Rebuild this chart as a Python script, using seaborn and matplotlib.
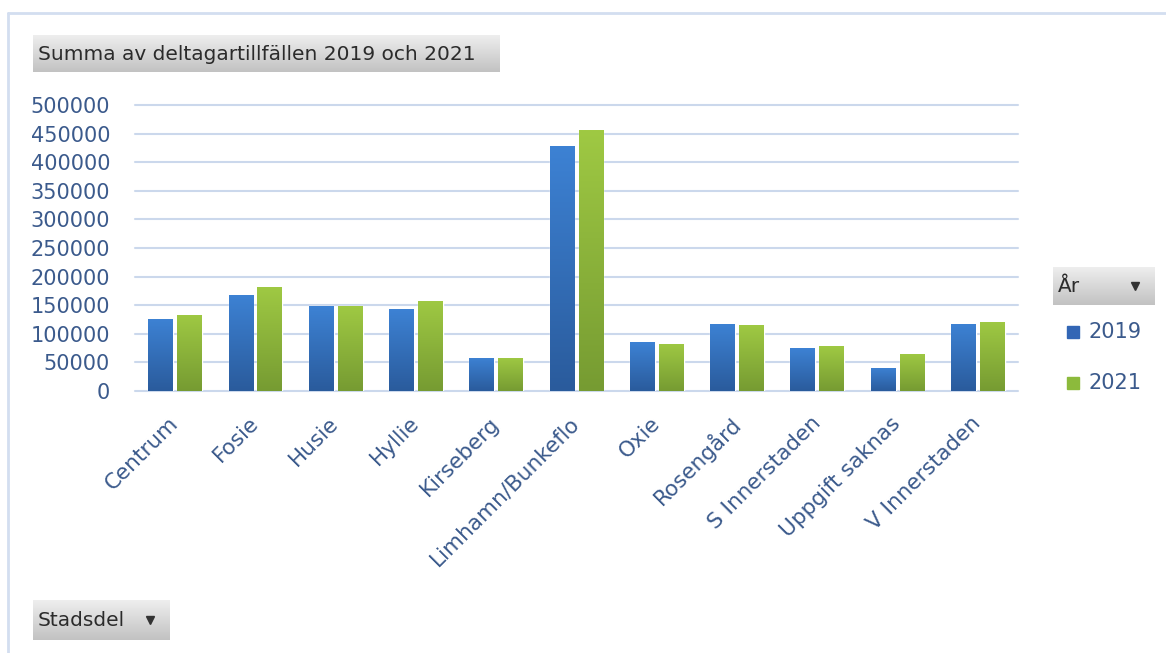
import numpy as np
import pandas as pd
import matplotlib
matplotlib.use("Agg")
import matplotlib.pyplot as plt
import seaborn as sns
from matplotlib.colors import LinearSegmentedColormap
from matplotlib.lines import Line2D
from matplotlib.patches import Rectangle

# data
stadsdelar = ["Centrum", "Fosie", "Husie", "Hyllie", "Kirseberg", "Limhamn/Bunkeflo",
              "Oxie", "Rosengård", "S Innerstaden", "Uppgift saknas", "V Innerstaden"]
values_2019 = [126000, 168000, 148000, 143000, 58000, 429000, 85000, 118000, 75000, 41000, 118000]
values_2021 = [133000, 181000, 148000, 158000, 58000, 456000, 83000, 115000, 78000, 65000, 121000]
years = ["2019", "2021"]
yticks = list(range(0, 500001, 50000))

W, H = 1166, 653
TICK_COLOR = "#3b5a8c"
GRID_COLOR = "#cbd8ec"
BAR_COLORS = {"2019": ("#2a5b9c", "#3d82d4"), "2021": ("#769b32", "#9fc943")}
LEGEND_COLORS = {"2019": "#3266b5", "2021": "#8cba3c"}

df = pd.DataFrame({
    "Stadsdel": stadsdelar * 2,
    "Antal": values_2019 + values_2021,
    "År": [years[0]] * len(stadsdelar) + [years[1]] * len(stadsdelar),
})

sns.set_style("white")
plt.rcParams["font.family"] = ["DejaVu Sans"]

fig = plt.figure(figsize=(W / 100, H / 100), dpi=100)
ax = fig.add_axes([135 / W, 1 - 391 / H, (1018 - 135) / W, (391 - 105) / H])

sns.barplot(data=df, x="Stadsdel", y="Antal", hue="År", palette=[LEGEND_COLORS[y] for y in years],
            width=0.72, gap=0.14, ax=ax, legend=False, zorder=3)

ax.set_yticks(yticks)
ax.set_yticklabels([str(v) for v in yticks])
ax.yaxis.grid(True, color=GRID_COLOR, linewidth=1.5, zorder=0)
for gl in ax.get_ygridlines():
    gl.set_clip_on(False)
ax.set_axisbelow(True)
for s in ax.spines.values():
    s.set_visible(False)
ax.set_xlabel("")
ax.set_ylabel("")
ax.tick_params(axis="y", length=0, pad=18, labelsize=15, labelcolor=TICK_COLOR)
ax.tick_params(axis="x", length=0, pad=21, labelsize=15.5, labelcolor=TICK_COLOR)
for lab in ax.get_xticklabels():
    lab.set_rotation(45)
    lab.set_ha("right")
    lab.set_va("center")
    lab.set_rotation_mode("anchor")

# vertical gradient fill on the bars
grad = np.linspace(0, 1, 256).reshape(-1, 1)
for year, cont in zip(years, ax.containers):
    cmap = LinearSegmentedColormap.from_list(year, BAR_COLORS[year])
    for p in cont.patches:
        x0, w, h = p.get_x(), p.get_width(), p.get_height()
        im = ax.imshow(grad, extent=[x0, x0 + w, 0, h], origin="lower", aspect="auto",
                       cmap=cmap, zorder=4)
        im.set_clip_path(p)
ax.set_ylim(0, 500000)
ax.set_xlim(-0.5, len(stadsdelar) - 0.5)


def button(x0, y0, x1, y1, text, arrow=False):
    bax = fig.add_axes([x0 / W, 1 - y1 / H, (x1 - x0) / W, (y1 - y0) / H])
    g = np.linspace(0, 1, 64).reshape(-1, 1)
    bcmap = LinearSegmentedColormap.from_list("btn", ["#c2c2c2", "#eeeeee"])
    bax.imshow(g, extent=[0, 1, 0, 1], origin="lower", aspect="auto", cmap=bcmap)
    bax.set_xlim(0, 1)
    bax.set_ylim(0, 1)
    bax.axis("off")
    bax.text(5 / (x1 - x0), 0.48, text, ha="left", va="center", fontsize=14.5, color="#2b2b2b")
    if arrow:
        bax.plot([1 - 20 / (x1 - x0)], [0.5], marker="v", markersize=6, color="#333333")


button(33, 35, 500, 72, "Summa av deltagartillfällen 2019 och 2021")
button(1053, 267, 1155, 305, "År", arrow=True)
button(33, 600, 170, 640, "Stadsdel", arrow=True)

# legend
for year, yc in zip(years, [332, 383]):
    fig.patches.append(Rectangle((1067 / W, 1 - (yc + 6) / H), 12 / W, 12 / H,
                                 transform=fig.transFigure, color=LEGEND_COLORS[year]))
    fig.text(1088 / W, 1 - yc / H, year, ha="left", va="center", fontsize=15, color=TICK_COLOR)

# outer frame
fig.add_artist(Line2D([8 / W, 1], [1 - 13 / H, 1 - 13 / H], color="#d3def0", linewidth=2,
                      transform=fig.transFigure))
fig.add_artist(Line2D([8 / W, 8 / W], [0, 1 - 13 / H], color="#d3def0", linewidth=2,
                      transform=fig.transFigure))

fig.savefig("out.png", dpi=100)
